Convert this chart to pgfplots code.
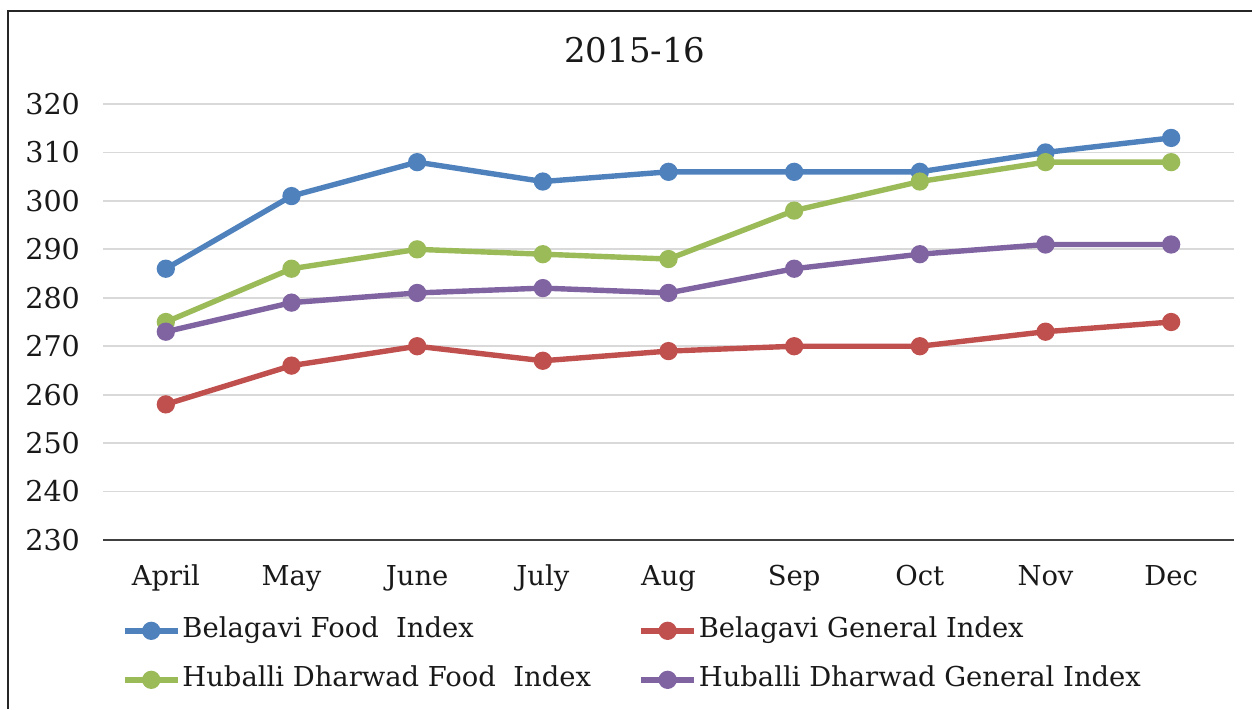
\documentclass[border=0pt]{standalone}
\usepackage{fontspec}
\setmainfont{DejaVu Serif}
\usepackage{pgfplots}
\pgfplotsset{compat=1.18}
\definecolor{cblue}{HTML}{4F81BD}
\definecolor{cred}{HTML}{C0504D}
\definecolor{cgreen}{HTML}{9BBB59}
\definecolor{cpurple}{HTML}{8064A2}
\definecolor{gridc}{HTML}{D9D9D9}
\definecolor{axc}{HTML}{404040}
\newcommand\cf{\fontsize{13.7}{16.4}\selectfont}
\newcommand\yf{\fontsize{14.3}{17}\selectfont}
\begin{document}
\begin{tikzpicture}
\useasboundingbox (0,0) rectangle (626pt,354.5pt);
\draw[line width=1pt, black!85] (4pt,0pt) -- (4pt,349pt) -- (626pt,349pt);
\node[font=\fontsize{17}{20}\selectfont, text=black!90] at (317.5pt,329.5pt) {2015-16};
\begin{axis}[
  at={(51.5pt,84.5pt)}, anchor=south west,
  scale only axis, width=565.5pt, height=218pt,
  xmin=-0.5, xmax=8.5, ymin=230, ymax=320,
  xtick={0,...,8},
  xticklabels={April,May,June,July,Aug,Sep,Oct,Nov,Dec},
  ytick={230,240,...,320},
  /pgf/number format/assume math mode=true,
  major tick length=0pt,
  axis x line*=bottom, axis y line*=left,
  y axis line style={draw=none},
  x axis line style={draw=axc, line width=0.8pt},
  ymajorgrids, grid style={gridc, line width=0.9pt},
  ticklabel style={text=black!90},
  yticklabel style={font=\yf, xshift=-8pt},
  xticklabel style={font=\cf, yshift=-9pt},
  every axis plot/.append style={line width=2.7pt, mark=*, mark size=3.2pt},
  legend columns=2,
  legend cell align=left,
  legend style={draw=none, fill=none, font=\cf, text=black!90,
    at={(0.0165,-0.2645)}, anchor=west, inner sep=0pt,
    nodes={inner sep=1pt, text height=10pt, text depth=3pt},
    row sep=9.5pt},
  legend image code/.code={\draw[mark repeat=2, mark phase=2, #1] plot coordinates {(0pt,0pt) (13.25pt,0pt) (26.5pt,0pt)};},
]
\addplot[cblue, mark options={fill=cblue}] coordinates {(0,286) (1,301) (2,308) (3,304) (4,306) (5,306) (6,306) (7,310) (8,313)};
\addlegendentry{\makebox[227pt][l]{Belagavi Food\ \ Index}}
\addplot[cred, mark options={fill=cred}] coordinates {(0,258) (1,266) (2,270) (3,267) (4,269) (5,270) (6,270) (7,273) (8,275)};
\addlegendentry{Belagavi General Index}
\addplot[cgreen, mark options={fill=cgreen}] coordinates {(0,275) (1,286) (2,290) (3,289) (4,288) (5,298) (6,304) (7,308) (8,308)};
\addlegendentry{\makebox[227pt][l]{Huballi Dharwad Food\ \ Index}}
\addplot[cpurple, mark options={fill=cpurple}] coordinates {(0,273) (1,279) (2,281) (3,282) (4,281) (5,286) (6,289) (7,291) (8,291)};
\addlegendentry{Huballi Dharwad General Index}
\end{axis}
\end{tikzpicture}
\end{document}
